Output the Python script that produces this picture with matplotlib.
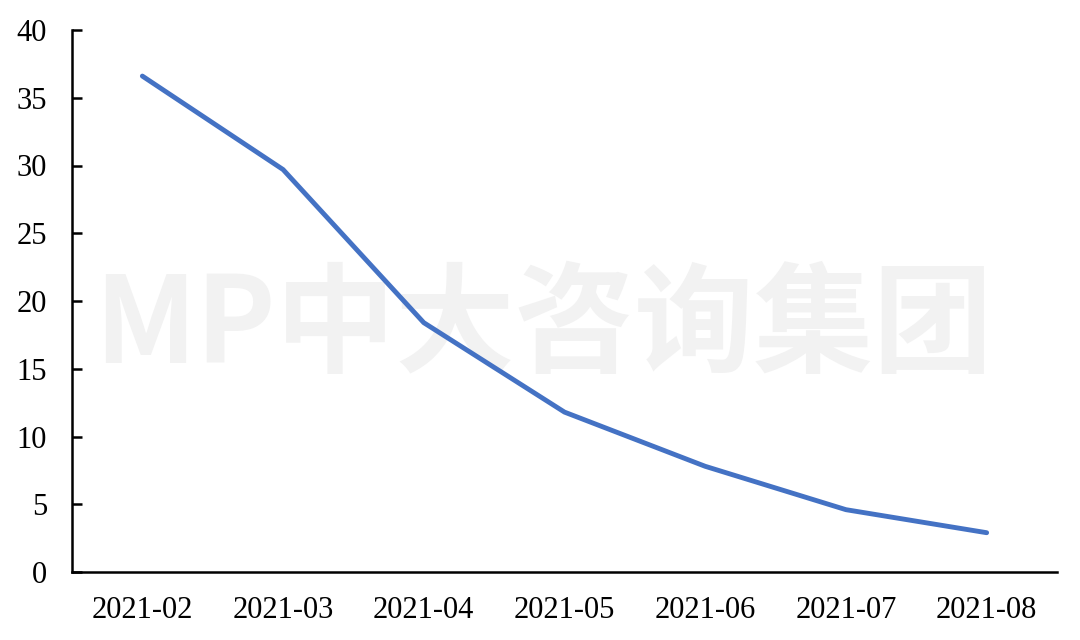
import matplotlib
matplotlib.use("Agg")
import matplotlib.pyplot as plt

categories = ["2021-02", "2021-03", "2021-04", "2021-05", "2021-06", "2021-07", "2021-08"]
values = [36.6, 29.7, 18.4, 11.8, 7.8, 4.6, 2.9]
yticks = [0, 5, 10, 15, 20, 25, 30, 35, 40]

fig = plt.figure(figsize=(10.8, 6.4), dpi=100)
ax = fig.add_axes([72/1080, 1-572/640, (1057-72)/1080, (572-30)/640])
ax.set_zorder(2)

fig.text(543/1080, 1-328/640, "MP中大咨询集团", ha="center", va="center",
         fontsize=86, fontweight="bold", color="#f2f2f2",
         family=["Noto Sans CJK SC", "DejaVu Sans"], zorder=0)

x = list(range(len(categories)))
ax.plot(x, values, color="#4472C4", linewidth=3.5, solid_capstyle="round", solid_joinstyle="round", zorder=3)
ax.set_xlim(-0.5, len(categories) - 0.5)
ax.set_ylim(0, 40)
ax.set_yticks(yticks)
ax.set_yticklabels([str(v) for v in yticks])
ax.set_xticks(x)
ax.set_xticklabels(categories)
ax.patch.set_alpha(0)
for s in ["top", "right"]:
    ax.spines[s].set_visible(False)
for s in ["left", "bottom"]:
    ax.spines[s].set_linewidth(1.8)
    ax.spines[s].set_color("black")
ax.tick_params(axis="y", direction="in", length=7, width=1.8, labelsize=22, pad=18)
ax.tick_params(axis="x", length=0, labelsize=22, pad=17)
for lab in ax.get_xticklabels() + ax.get_yticklabels():
    lab.set_fontfamily("Liberation Serif")

fig.savefig("out.png", dpi=100)
